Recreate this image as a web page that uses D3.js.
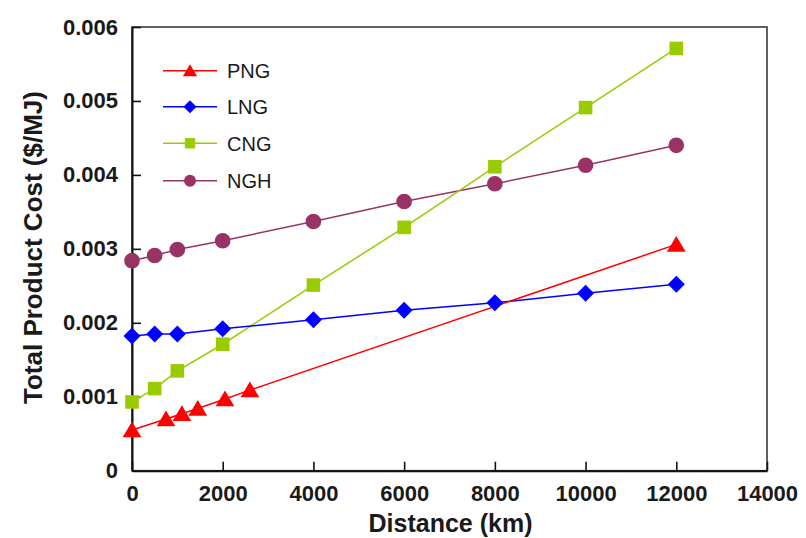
<!DOCTYPE html>
<html>
<head>
<meta charset="utf-8">
<script src="https://cdn.jsdelivr.net/npm/d3@7/dist/d3.min.js"></script>
<style>
  html, body { margin: 0; padding: 0; background: #fff; }
  svg { display: block; }
  text { font-family: "Liberation Sans", Arial, Helvetica, sans-serif; fill: #1a1a1a; }
</style>
</head>
<body>
<svg id="chart" width="806" height="538"></svg>
<script>
// ---- data ----
const seriesNames = ["PNG", "LNG", "CNG", "NGH"];
const pngDistance = [0, 750, 1100, 1450, 2050, 2600, 12000];
const pngCost = [0.00055, 0.00070, 0.00077, 0.00084, 0.00097, 0.00109, 0.00306];
const lngDistance = [0, 500, 1000, 2000, 4000, 6000, 8000, 10000, 12000];
const lngCost = [0.00182, 0.00185, 0.00185, 0.00192, 0.00204, 0.00217, 0.00227, 0.00240, 0.00252];
const cngDistance = [0, 500, 1000, 2000, 4000, 6000, 8000, 10000, 12000];
const cngCost = [0.00093, 0.00111, 0.00135, 0.00171, 0.00251, 0.00329, 0.00411, 0.00491, 0.00571];
const nghDistance = [0, 500, 1000, 2000, 4000, 6000, 8000, 10000, 12000];
const nghCost = [0.00284, 0.00291, 0.00299, 0.00311, 0.00337, 0.00364, 0.00388, 0.00413, 0.00440];
const xTickValues = [0, 2000, 4000, 6000, 8000, 10000, 12000, 14000];
const yTickValues = [0, 0.001, 0.002, 0.003, 0.004, 0.005, 0.006];
const xTitle = "Distance (km)";
const yTitle = "Total Product Cost ($/MJ)";

(function () {
// ---- layout / style ----
const pL = 132, pR = 767, pT = 27, pB = 470.7;
const colors = { PNG: "#ff0000", LNG: "#0000ff", CNG: "#99cc00", NGH: "#993366" };
const shapes = { PNG: "triangle", LNG: "diamond", CNG: "square", NGH: "circle" };

const svg = d3.select("#chart");
const x = d3.scaleLinear().domain([0, 14000]).range([pL, pR]);
const y = d3.scaleLinear().domain([0, 0.006]).range([pB, pT]);

// frame
svg.append("rect").attr("x", pL).attr("y", pT)
  .attr("width", pR - pL).attr("height", pB - pT)
  .attr("fill", "none").attr("stroke", "#3a3a3a").attr("stroke-width", 1.6);

// minor ticks
const xMinor = d3.range(0, 14001, 400).filter(v => v % 2000 !== 0);
const yMinor = d3.range(0, 31).map(i => i * 0.0002).filter((v, i) => i % 5 !== 0);

const gx = svg.append("g").attr("transform", `translate(0,${pB})`);
gx.call(d3.axisBottom(x).tickValues(xMinor).tickSize(-7).tickFormat(""))
  .call(g => g.select(".domain").remove());
gx.call(d3.axisBottom(x).tickValues(xTickValues).tickSizeInner(-9).tickSizeOuter(0).tickPadding(15).tickFormat(d3.format("d")));
gx.selectAll("line").attr("stroke", "#111").attr("stroke-width", 1.6);
gx.selectAll(".domain").attr("stroke", "#111").attr("stroke-width", 2);
gx.selectAll("text").attr("font-size", 22).attr("font-weight", "bold").attr("fill", "#1a1a1a")
  .attr("font-family", "'Liberation Sans', Arial, sans-serif");

const gy = svg.append("g").attr("transform", `translate(${pL},0)`);
gy.call(d3.axisLeft(y).tickValues(yMinor).tickSize(-7).tickFormat(""))
  .call(g => g.select(".domain").remove());
gy.call(d3.axisLeft(y).tickValues(yTickValues).tickSizeInner(-9).tickSizeOuter(0).tickPadding(14)
  .tickFormat(d => d === 0 ? "0" : d3.format(".3f")(d)));
gy.selectAll("line").attr("stroke", "#111").attr("stroke-width", 1.6);
gy.selectAll(".domain").attr("stroke", "#111").attr("stroke-width", 2);
gy.selectAll("text").attr("font-size", 22).attr("font-weight", "bold").attr("fill", "#1a1a1a")
  .attr("font-family", "'Liberation Sans', Arial, sans-serif");

// series
const series = [
  { name: "PNG", xs: pngDistance, ys: pngCost },
  { name: "LNG", xs: lngDistance, ys: lngCost },
  { name: "CNG", xs: cngDistance, ys: cngCost },
  { name: "NGH", xs: nghDistance, ys: nghCost }
];

function markerPath(shape, s) {
  if (shape === "triangle") return `M0,${-s}L${s * 1.1},${s * 0.85}L${-s * 1.1},${s * 0.85}Z`;
  if (shape === "diamond") return `M0,${-s}L${s},0L0,${s}L${-s},0Z`;
  if (shape === "square") return `M${-s * 0.8},${-s * 0.8}H${s * 0.8}V${s * 0.8}H${-s * 0.8}Z`;
  return null;
}
function drawMarker(g, shape, cx, cy, s, color) {
  if (shape === "circle") {
    g.append("circle").attr("cx", cx).attr("cy", cy).attr("r", s * 0.92).attr("fill", color);
  } else {
    g.append("path").attr("d", markerPath(shape, s))
      .attr("transform", `translate(${cx},${cy})`).attr("fill", color);
  }
}

const line = d3.line().x(d => x(d[0])).y(d => y(d[1]));
const plot = svg.append("g");
series.slice().reverse().forEach(sr => {
  const pts = sr.xs.map((v, i) => [v, sr.ys[i]]);
  plot.append("path").datum(pts).attr("d", line)
    .attr("fill", "none").attr("stroke", colors[sr.name]).attr("stroke-width", 1.5);
});
series.slice().reverse().forEach(sr => {
  const g = plot.append("g");
  sr.xs.forEach((v, i) => drawMarker(g, shapes[sr.name], x(v), y(sr.ys[i]), 8.5, colors[sr.name]));
});

// legend
const legendRows = [70.7, 106.7, 143.3, 180.7];
const lg = svg.append("g");
seriesNames.forEach((n, i) => {
  const cy = legendRows[i];
  lg.append("line").attr("x1", 163).attr("x2", 217).attr("y1", cy).attr("y2", cy)
    .attr("stroke", colors[n]).attr("stroke-width", 1.5);
  drawMarker(lg, shapes[n], 190, cy, 6.5, colors[n]);
  lg.append("text").attr("x", 227).attr("y", cy).attr("dy", "0.36em")
    .attr("font-size", 20).text(n);
});

// axis titles
svg.append("text").attr("x", (pL + pR) / 2 + 1).attr("y", 532)
  .attr("text-anchor", "middle").attr("font-size", 25).attr("font-weight", "bold").text(xTitle);
svg.append("text").attr("transform", "translate(42,247.5) rotate(-90)")
  .attr("text-anchor", "middle").attr("font-size", 26).attr("font-weight", "bold").text(yTitle);
})();
</script>
</body>
</html>
